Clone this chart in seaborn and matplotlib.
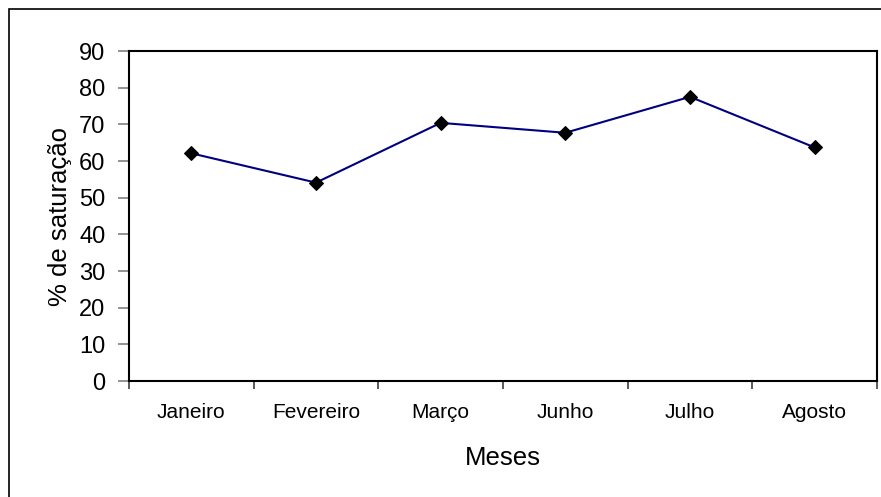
import matplotlib
matplotlib.use("Agg")
import matplotlib.pyplot as plt
from matplotlib.patches import Rectangle
from matplotlib.ticker import FixedLocator, MultipleLocator
import pandas as pd
import seaborn as sns

meses = ["Janeiro", "Fevereiro", "Março", "Junho", "Julho", "Agosto"]
saturacao = [62.1, 54.1, 70.4, 67.7, 77.5, 63.7]

df = pd.DataFrame({"Meses": meses, "saturacao": saturacao})

sns.set_style("white")
plt.rcParams["font.family"] = ["Liberation Sans", "DejaVu Sans"]
plt.rcParams["text.color"] = "black"
plt.rcParams["axes.labelcolor"] = "black"
plt.rcParams["xtick.color"] = "black"
plt.rcParams["ytick.color"] = "black"

fig = plt.figure(figsize=(8.81, 4.97), dpi=100)
ax = fig.add_axes([129 / 881, 116 / 497, 748 / 881, 330 / 497])

sns.lineplot(data=df, x="Meses", y="saturacao", ax=ax, sort=False,
             color="#000080", linewidth=1.5, marker="D", markersize=7,
             markerfacecolor="black", markeredgecolor="black")

ax.set_xlim(-0.5, len(meses) - 0.5)
ax.set_ylim(0, 90)
ax.yaxis.set_major_locator(MultipleLocator(10))

# category labels centred, tick marks on category boundaries
ax.set_xticks(range(len(meses)))
ax.set_xticklabels(meses)
ax.xaxis.set_minor_locator(FixedLocator([i - 0.5 for i in range(len(meses) + 1)]))
ax.tick_params(axis="x", which="major", length=0, pad=16, labelsize=15,
               labelcolor="black")
ax.tick_params(axis="x", which="minor", length=6, width=1.2, color="#404040",
               direction="out", bottom=True)
ax.tick_params(axis="y", which="major", length=8, width=1.2, color="#808080",
               direction="out", left=True, pad=9, labelsize=17,
               labelcolor="black")

for side in ["left", "right", "top", "bottom"]:
    ax.spines[side].set_visible(True)
    ax.spines[side].set_color("black")
    ax.spines[side].set_linewidth(1.5)

ax.set_xlabel("Meses", fontsize=18.5, labelpad=17, color="black")
ax.set_ylabel("% de saturação", fontsize=18.5, labelpad=5, color="black")

# outer chart frame
fig.patches.append(Rectangle((9 / 881, -0.05), 1.1, (497 - 9) / 497 + 0.05,
                             transform=fig.transFigure, fill=False,
                             edgecolor="black", linewidth=1.2, zorder=0))

fig.savefig("out.png", dpi=100)
